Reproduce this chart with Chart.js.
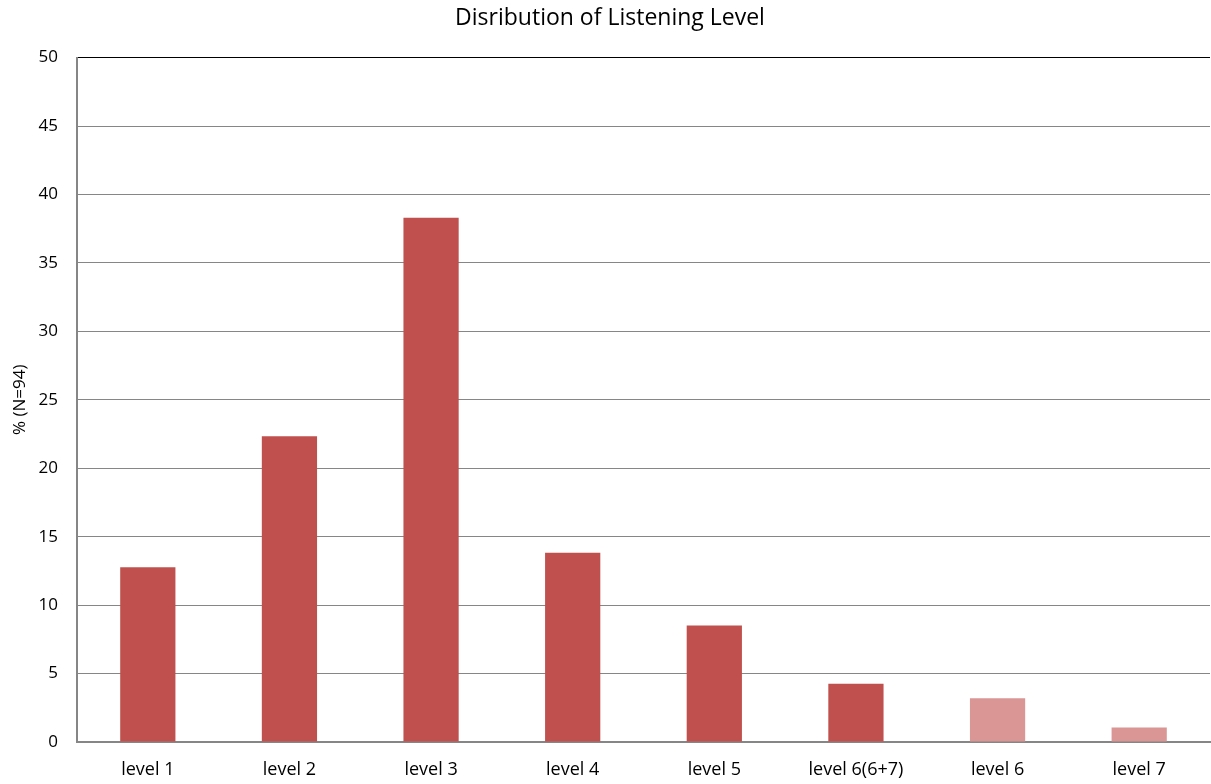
<!DOCTYPE html>
<html>
<head>
<meta charset="utf-8">
<script src="https://cdn.jsdelivr.net/npm/chart.js@4/dist/chart.umd.min.js"></script>
<style>
  html, body { margin: 0; padding: 0; background: #fff; }
  #wrap { width: 1211px; height: 784px; }
</style>
</head>
<body>
<div id="wrap"><canvas id="chart"></canvas></div>
<script>
// ===== Data =====
const categories = ["level 1", "level 2", "level 3", "level 4", "level 5", "level 6(6+7)", "level 6", "level 7"];
const percentValues = [12.77, 22.34, 38.30, 13.83, 8.51, 4.26, 3.19, 1.06];
const barColors = ["#C0504D", "#C0504D", "#C0504D", "#C0504D", "#C0504D", "#C0504D", "#D99694", "#D99694"];
const yTicks = [0, 5, 10, 15, 20, 25, 30, 35, 40, 45, 50];

const FONT = "'Open Sans', 'Liberation Sans', sans-serif";

new Chart(document.getElementById("chart"), {
  type: "bar",
  data: {
    labels: categories,
    datasets: [{
      data: percentValues,
      backgroundColor: barColors,
      barPercentage: 0.39,
      categoryPercentage: 1
    }]
  },
  options: {
    responsive: true,
    maintainAspectRatio: false,
    animation: false,
    layout: { padding: { left: 10, right: 1, top: 0, bottom: 0 } },
    plugins: {
      legend: { display: false },
      tooltip: { enabled: false },
      title: {
        display: true,
        text: "Disribution of Listening Level",
        color: "#000",
        font: { family: FONT, size: 23, weight: "normal" },
        padding: { top: 5, bottom: 25 }
      }
    },
    scales: {
      x: {
        grid: { display: false },
        border: { color: "#868686", width: 2 },
        ticks: { color: "#000", font: { family: FONT, size: 18 }, padding: 9, maxRotation: 0 },
        afterFit: (scale) => { scale.height = 42; }
      },
      y: {
        min: 0,
        max: 50,
        afterBuildTicks: (scale) => { scale.ticks = yTicks.map(v => ({ value: v })); },
        grid: {
          color: (ctx) => ctx.tick && ctx.tick.value === 50 ? "#000" : "#868686",
          lineWidth: 1,
          drawTicks: false
        },
        border: { color: "#868686", width: 2 },
        ticks: { color: "#000", font: { family: FONT, size: 17 }, padding: 19 },
        title: {
          display: true,
          text: "% (N=94)",
          color: "#000",
          font: { family: FONT, size: 17 },
          padding: 0
        },
        afterFit: (scale) => { scale.width = 67; }
      }
    }
  }
});
</script>
</body>
</html>
